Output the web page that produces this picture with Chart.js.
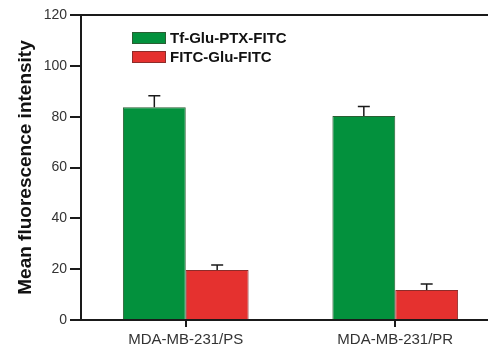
<!DOCTYPE html>
<html>
<head>
<meta charset="utf-8">
<script src="https://cdn.jsdelivr.net/npm/chart.js@4.4.0/dist/chart.umd.min.js"></script>
<style>
  html, body { margin: 0; padding: 0; background: #fff; overflow: hidden; }
  #wrap { width: 500px; height: 351px; }
</style>
</head>
<body>
<div id="wrap"><canvas id="fluoChart" width="500" height="351"></canvas></div>
<script>
// data
const cellLines = ["MDA-MB-231/PS", "MDA-MB-231/PR"];
const tfGluPtxFitc = [83.7, 80.3];
const tfGluPtxFitcErr = [4.5, 3.7];
const fitcGluFitc = [19.7, 11.8];
const fitcGluFitcErr = [1.9, 2.4];
const yTicks = [0, 20, 40, 60, 80, 100, 120];

const errors = [tfGluPtxFitcErr, fitcGluFitcErr];
const FONT = "Arial, 'Liberation Sans', sans-serif";

// upward error bars with a cap
const errorBars = {
  id: "errorBars",
  afterDatasetsDraw(chart) {
    const c = chart.ctx;
    const y = chart.scales.y;
    c.save();
    c.strokeStyle = "#1a1a1a";
    c.lineWidth = 1.5;
    chart.data.datasets.forEach((ds, i) => {
      const meta = chart.getDatasetMeta(i);
      meta.data.forEach((bar, j) => {
        const top = y.getPixelForValue(ds.data[j] + errors[i][j]);
        c.beginPath();
        c.moveTo(bar.x, bar.y);
        c.lineTo(bar.x, top);
        c.moveTo(bar.x - 6, top);
        c.lineTo(bar.x + 6, top);
        c.stroke();
      });
    });
    c.restore();
  }
};

// top frame line + legend inside the plot
const frameAndLegend = {
  id: "frameAndLegend",
  afterDraw(chart) {
    const c = chart.ctx;
    const a = chart.chartArea;
    c.save();
    c.strokeStyle = "#1a1a1a";
    c.lineWidth = 2;
    c.beginPath();
    c.moveTo(a.left - 1, a.top);
    c.lineTo(a.right, a.top);
    c.stroke();

    c.font = "bold 15px " + FONT;
    c.textBaseline = "middle";
    chart.data.datasets.forEach((ds, i) => {
      const yy = 38 + i * 19;
      c.fillStyle = ds.backgroundColor;
      c.fillRect(132, yy - 6, 34, 12);
      c.strokeStyle = ds.borderColor;
      c.lineWidth = 1;
      c.strokeRect(132.5, yy - 5.5, 33, 11);
      c.fillStyle = "#111";
      c.fillText(ds.label, 170, yy + 1);
    });
    c.restore();
  }
};

new Chart(document.getElementById("fluoChart"), {
  type: "bar",
  data: {
    labels: cellLines,
    datasets: [
      {
        label: "Tf-Glu-PTX-FITC",
        data: tfGluPtxFitc,
        backgroundColor: "#03913d",
        borderColor: "#2a5e33",
        borderWidth: 1
      },
      {
        label: "FITC-Glu-FITC",
        data: fitcGluFitc,
        backgroundColor: "#e5312f",
        borderColor: "#8e2c2a",
        borderWidth: 1
      }
    ]
  },
  options: {
    responsive: false,
    animation: false,
    layout: { padding: { left: 0, top: 15, right: 0, bottom: 0 } },
    plugins: { legend: { display: false }, tooltip: { enabled: false } },
    datasets: { bar: { categoryPercentage: 0.6, barPercentage: 1 } },
    scales: {
      x: {
        grid: { display: true, drawOnChartArea: false, offset: false, tickLength: 7, color: "#1a1a1a", lineWidth: 2 },
        border: { display: true, color: "#1a1a1a", width: 2 },
        ticks: { color: "#333", font: { family: FONT, size: 15 }, padding: 4 },
        afterFit(s) { s.height = 31; }
      },
      y: {
        min: 0,
        max: 120,
        afterBuildTicks(s) { s.ticks = yTicks.map(v => ({ value: v })); },
        grid: { display: true, drawOnChartArea: false, tickLength: 11, color: "#1a1a1a", lineWidth: 2 },
        border: { display: true, color: "#1a1a1a", width: 2 },
        ticks: { color: "#333", font: { family: FONT, size: 14 }, padding: 3 },
        title: {
          display: true,
          text: "Mean fluorescence intensity",
          color: "#111",
          font: { family: FONT, size: 19, weight: "bold" },
          padding: { top: 14, bottom: 0 }
        },
        afterFit(s) { s.width = 81; }
      }
    }
  },
  plugins: [errorBars, frameAndLegend]
});
</script>
</body>
</html>
